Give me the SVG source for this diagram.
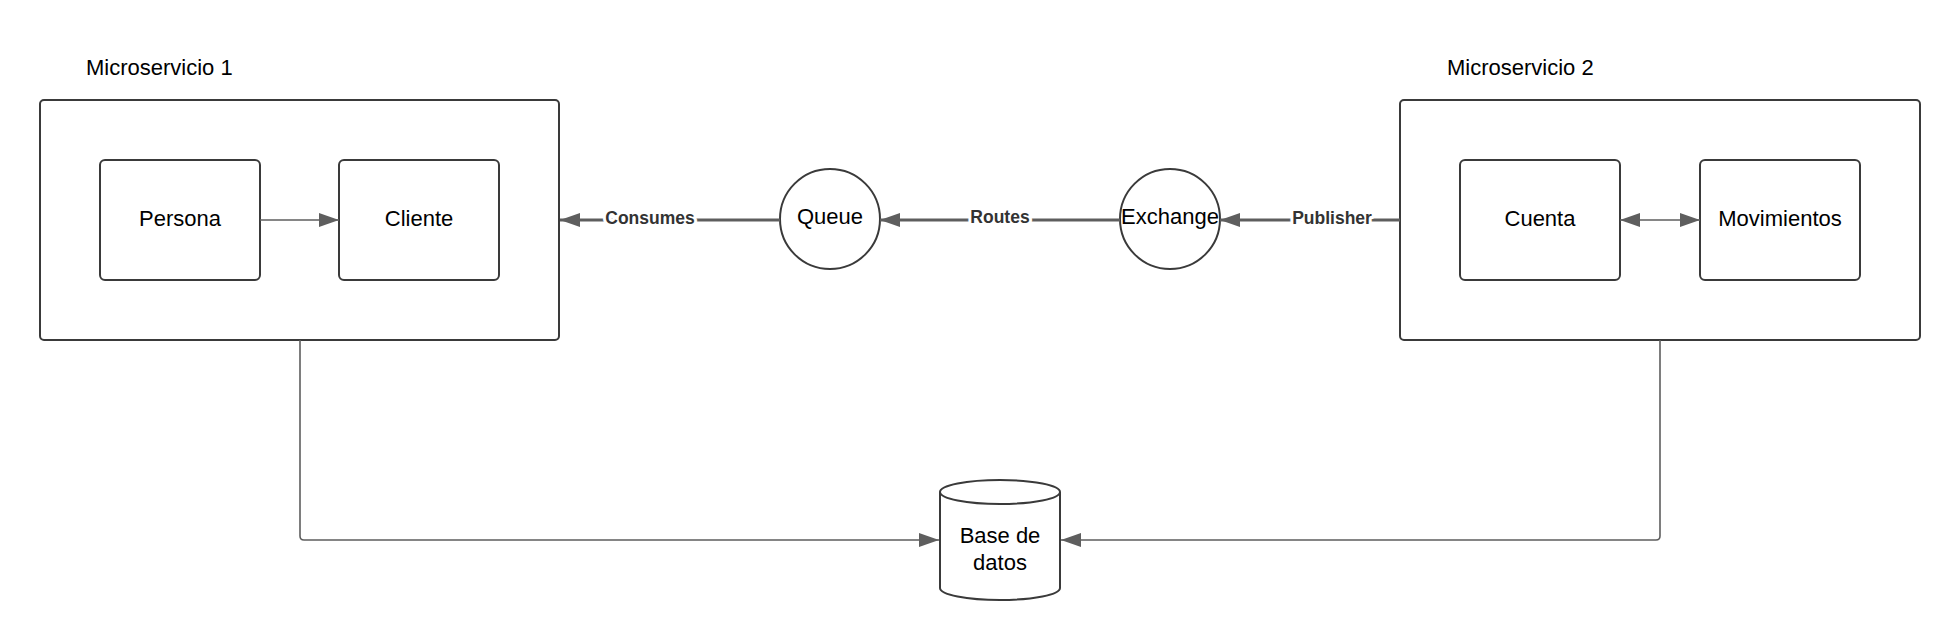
<svg xmlns="http://www.w3.org/2000/svg" width="1960" height="640" viewBox="0 0 1960 640">
<defs>
<style>
.box{fill:#fff;stroke:#3a3a3a;stroke-width:2}
.t{font-family:"Liberation Sans",Arial,sans-serif;font-size:22px;fill:#000}
.lbl{font-family:"Liberation Sans",Arial,sans-serif;font-size:17.5px;font-weight:bold;fill:#333;text-anchor:middle;stroke:#fff;stroke-width:6;paint-order:stroke;stroke-linejoin:round}
.c{text-anchor:middle}
.thin{fill:none;stroke:#5e5e5e;stroke-width:1.6}
.thick{fill:none;stroke:#5e5e5e;stroke-width:2.8}
</style>
<marker id="ah" markerUnits="userSpaceOnUse" viewBox="0 0 20 14" refX="20" refY="7" markerWidth="20" markerHeight="14" orient="auto-start-reverse">
<path d="M0,0 L20,7 L0,14 Z" fill="#5e5e5e"/>
</marker>
</defs>
<rect width="1960" height="640" fill="#fff"/>

<g id="microservicio1">
<text class="t" x="86" y="75">Microservicio 1</text>
<rect class="box" x="40" y="100" width="519" height="240" rx="4"/>
</g>
<g id="persona">
<rect class="box" x="100" y="160" width="160" height="120" rx="5"/>
<text class="t c" x="180" y="226">Persona</text>
</g>
<g id="cliente">
<rect class="box" x="339" y="160" width="160" height="120" rx="5"/>
<text class="t c" x="419" y="226">Cliente</text>
</g>

<g id="queue">
<circle class="box" cx="830" cy="219" r="50"/>
<text class="t c" x="830" y="224">Queue</text>
</g>
<g id="exchange">
<circle class="box" cx="1170" cy="219" r="50"/>
<text class="t c" x="1170" y="224">Exchange</text>
</g>

<g id="microservicio2">
<text class="t" x="1447" y="75">Microservicio 2</text>
<rect class="box" x="1400" y="100" width="520" height="240" rx="4"/>
</g>
<g id="cuenta">
<rect class="box" x="1460" y="160" width="160" height="120" rx="5"/>
<text class="t c" x="1540" y="226">Cuenta</text>
</g>
<g id="movimientos">
<rect class="box" x="1700" y="160" width="160" height="120" rx="5"/>
<text class="t c" x="1780" y="226">Movimientos</text>
</g>

<g id="basededatos">
<path class="box" d="M940,492 A60,12 0 0 1 1060,492 V588 A60,12 0 0 1 940,588 Z"/>
<path class="box" fill="none" d="M940,492 A60,12 0 0 0 1060,492"/>
<text class="t c" x="1000" y="543">Base de</text>
<text class="t c" x="1000" y="570">datos</text>
</g>

<g id="connectors">
<path class="thin" d="M260,220 H339" marker-end="url(#ah)"/>
<path class="thin" d="M1620,220 H1700" marker-start="url(#ah)" marker-end="url(#ah)"/>
<path class="thick" d="M780,220 H560" marker-end="url(#ah)"/>
<text class="lbl" x="650" y="224">Consumes</text>
<path class="thick" d="M1120,220 H880" marker-end="url(#ah)"/>
<text class="lbl" x="1000" y="223">Routes</text>
<path class="thick" d="M1400,220 H1220" marker-end="url(#ah)"/>
<text class="lbl" x="1332" y="224">Publisher</text>
<path class="thin" d="M300,340 V536 Q300,540 304,540 H939" marker-end="url(#ah)"/>
<path class="thin" d="M1660,340 V536 Q1660,540 1656,540 H1061" marker-end="url(#ah)"/>
</g>
</svg>
